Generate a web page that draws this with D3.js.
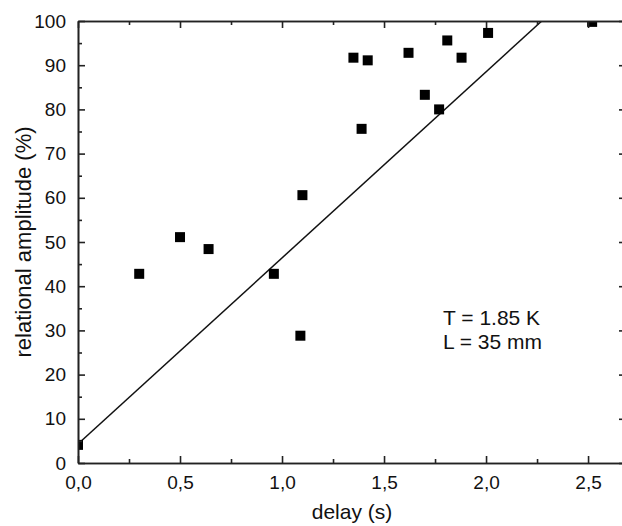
<!DOCTYPE html>
<html>
<head>
<meta charset="utf-8">
<script src="https://cdn.jsdelivr.net/npm/d3@7"></script>
<style>
  body { margin: 0; background: #fff; }
  text { font-family: "Liberation Sans", Arial, sans-serif; fill: #111; }
</style>
</head>
<body>
<script>
// measured points
var delay = [0.0, 0.30, 0.50, 0.64, 0.96, 1.10, 1.09, 1.35, 1.39, 1.42, 1.62, 1.70, 1.77, 1.81, 1.88, 2.01, 2.52];
var amplitude = [4.1, 42.8, 51.1, 48.4, 42.8, 60.6, 28.8, 91.7, 75.6, 91.1, 92.8, 83.3, 80.0, 95.6, 91.7, 97.3, 99.8];

// linear fit
var fitIntercept = 4.3;
var fitSlope = 42.1;

var xTicks = [0, 0.5, 1.0, 1.5, 2.0, 2.5];
var yTicks = [0, 10, 20, 30, 40, 50, 60, 70, 80, 90, 100];
var notes = ["T = 1.85 K", "L = 35 mm"];

var W = 622, H = 526;
var margin = {left: 78, top: 21, right: 626, bottom: 463};

var x = d3.scaleLinear().domain([0, 2.686]).range([margin.left, margin.right]);
var y = d3.scaleLinear().domain([0, 100]).range([margin.bottom, margin.top]);

var svg = d3.select("body").append("svg")
  .attr("width", W)
  .attr("height", H);

svg.append("defs").append("clipPath").attr("id", "plotclip")
  .append("rect")
  .attr("x", margin.left).attr("y", margin.top)
  .attr("width", margin.right - margin.left)
  .attr("height", margin.bottom - margin.top);

var plot = svg.append("g").attr("clip-path", "url(#plotclip)");

// fit line
var xEnd = (100 - fitIntercept) / fitSlope;
plot.append("line")
  .attr("x1", x(0)).attr("y1", y(fitIntercept))
  .attr("x2", x(xEnd)).attr("y2", y(100))
  .attr("stroke", "#111")
  .attr("stroke-width", 1.5);

// square markers
var sq = 10;
plot.selectAll("rect.pt")
  .data(delay)
  .enter()
  .append("rect")
  .attr("class", "pt")
  .attr("x", function (d){ return x(d) - sq / 2 })
  .attr("y", function (d, i){ return y(amplitude[i]) - sq / 2 })
  .attr("width", sq)
  .attr("height", sq)
  .attr("fill", "#000");

// axes: major ticks inward, minor ticks between
var fmtX = function (d){ return d3.format(".1f")(d).replace(".", ",") };
var xMinor = d3.range(0.25, 2.7, 0.5);
var yMinor = d3.range(5, 100, 10);

var bottomAxis = d3.axisBottom(x).tickValues(xTicks).tickFormat(fmtX).tickSizeInner(-7).tickSizeOuter(0).tickPadding(13);
var leftAxis = d3.axisLeft(y).tickValues(yTicks).tickSizeInner(-7).tickSizeOuter(0).tickPadding(12);

var gx = svg.append("g").attr("transform", "translate(0," + margin.bottom + ")").call(bottomAxis);
var gy = svg.append("g").attr("transform", "translate(" + margin.left + ",0)").call(leftAxis);

svg.append("g").attr("transform", "translate(0," + margin.bottom + ")")
  .call(d3.axisBottom(x).tickValues(xMinor).tickFormat("").tickSizeInner(-4).tickSizeOuter(0));
svg.append("g").attr("transform", "translate(" + margin.left + ",0)")
  .call(d3.axisLeft(y).tickValues(yMinor).tickFormat("").tickSizeInner(-4).tickSizeOuter(0));

// top and right mirror axes
svg.append("g").attr("transform", "translate(0," + margin.top + ")")
  .call(d3.axisTop(x).tickValues(xTicks).tickFormat("").tickSizeInner(-7).tickSizeOuter(0));
svg.append("g").attr("transform", "translate(0," + margin.top + ")")
  .call(d3.axisTop(x).tickValues(xMinor).tickFormat("").tickSizeInner(-4).tickSizeOuter(0));
svg.append("g").attr("transform", "translate(" + margin.right + ",0)")
  .call(d3.axisRight(y).tickValues(yTicks).tickFormat("").tickSizeInner(-7).tickSizeOuter(0));
svg.append("g").attr("transform", "translate(" + margin.right + ",0)")
  .call(d3.axisRight(y).tickValues(yMinor).tickFormat("").tickSizeInner(-4).tickSizeOuter(0));

svg.selectAll(".domain, .tick line")
  .attr("stroke", "#222")
  .attr("stroke-width", 1.6);
svg.selectAll(".tick text")
  .attr("font-size", 19)
  .attr("font-family", "Liberation Sans, Arial, sans-serif")
  .attr("fill", "#111");

// axis titles
svg.append("text")
  .attr("x", (margin.left + margin.right) / 2)
  .attr("y", 519)
  .attr("text-anchor", "middle")
  .attr("font-size", 21)
  .text("delay (s)");

svg.append("text")
  .attr("transform", "translate(31," + ((margin.top + margin.bottom) / 2) + ") rotate(-90)")
  .attr("text-anchor", "middle")
  .attr("font-size", 22)
  .text("relational amplitude (%)");

// annotation
svg.selectAll("text.note")
  .data(notes)
  .enter()
  .append("text")
  .attr("class", "note")
  .attr("x", 443)
  .attr("y", function (d, i){ return 325 + i * 24 })
  .attr("font-size", 21)
  .text(function (d){ return d });
</script>
</body>
</html>
